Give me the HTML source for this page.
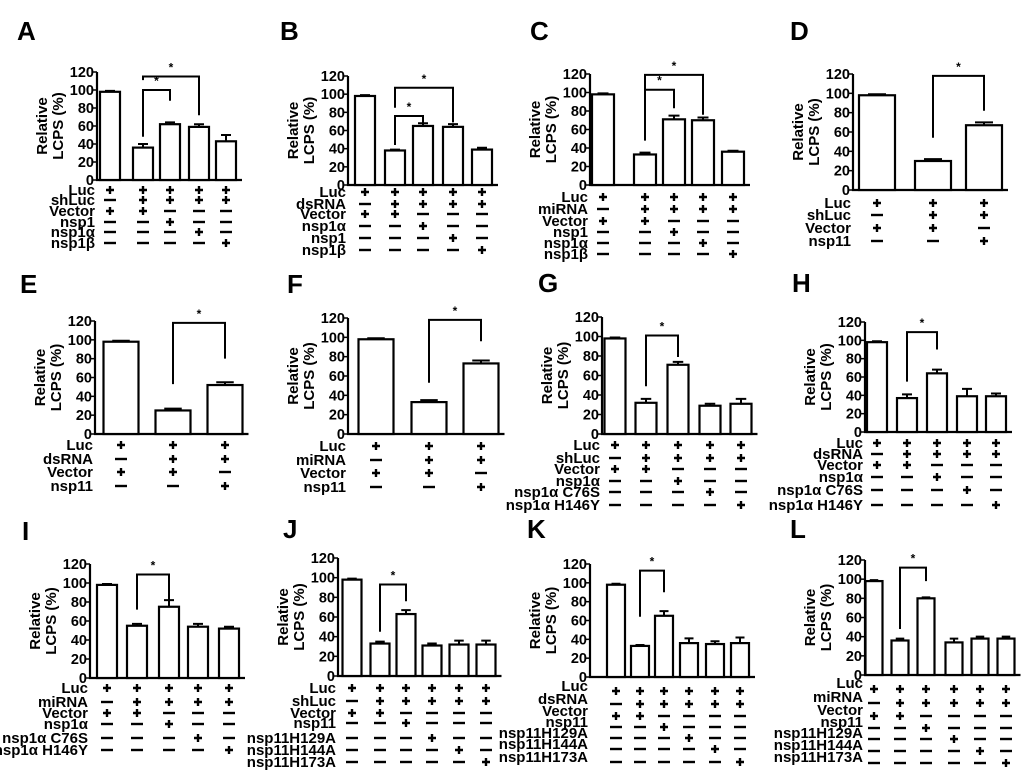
<!DOCTYPE html>
<html><head><meta charset="utf-8"><style>
html,body{margin:0;padding:0;background:#fff;}
svg{display:block;font-family:"Liberation Sans",Arial,sans-serif;font-weight:bold;}
</style></head><body>
<svg id="fig" width="1024" height="782" viewBox="0 0 1024 782"></svg>
<script>
// ---- data ----
const valsA=[98,36,62,59,43], errA=[1,4,2,3,7];
const valsB=[98,38,65,64,39], errB=[1,1,3,3,2];
const valsC=[98,33,71,70,36], errC=[1,2,4,3,1];
const valsD=[98,30,67], errD=[1,2,3];
const valsE=[98,25,52], errE=[1,2,3];
const valsF=[98,33,73], errF=[1,2,3];
const valsG=[98,32,71,29,31], errG=[1,4,3,2,5];
const valsH=[98,37,64,39,39], errH=[1,4,4,8,3];
const valsI=[98,55,75,54,52], errI=[1,2,7,3,2];
const valsJ=[98,33,63,31,32,32], errJ=[1,2,4,2,4,4];
const valsK=[98,33,65,36,35,36], errK=[1,1,5,5,3,6];
const valsL=[98,36,80,34,38,38], errL=[1,2,1,4,2,2];
const yTicks=[0,20,40,60,80,100,120];
const rowsA=["Luc","shLuc","Vector","nsp1","nsp1α","nsp1β"];
const rowsB=["Luc","dsRNA","Vector","nsp1α","nsp1","nsp1β"];
const rowsC=["Luc","miRNA","Vector","nsp1","nsp1α","nsp1β"];
const rowsD=["Luc","shLuc","Vector","nsp11"];
const rowsE=["Luc","dsRNA","Vector","nsp11"];
const rowsF=["Luc","miRNA","Vector","nsp11"];
const rowsG=["Luc","shLuc","Vector","nsp1α","nsp1α C76S","nsp1α H146Y"];
const rowsH=["Luc","dsRNA","Vector","nsp1α","nsp1α C76S","nsp1α H146Y"];
const rowsI=["Luc","miRNA","Vector","nsp1α","nsp1α C76S","nsp1α H146Y"];
const rowsJ=["Luc","shLuc","Vector","nsp11","nsp11H129A","nsp11H144A","nsp11H173A"];
const rowsK=["Luc","dsRNA","Vector","nsp11","nsp11H129A","nsp11H144A","nsp11H173A"];
const rowsL=["Luc","miRNA","Vector","nsp11","nsp11H129A","nsp11H144A","nsp11H173A"];
const signs5=[[1,1,1,1,1],[0,1,1,1,1],[1,1,0,0,0],[0,0,1,0,0],[0,0,0,1,0],[0,0,0,0,1]];
const signs3=[[1,1,1],[0,1,1],[1,1,0],[0,0,1]];
const signs6=[[1,1,1,1,1,1],[0,1,1,1,1,1],[1,1,0,0,0,0],[0,0,1,0,0,0],[0,0,0,1,0,0],[0,0,0,0,1,0],[0,0,0,0,0,1]];
// brackets: [fromBar,toBar,levelValue,leftLegValue,rightLegValue]
const brA=[[1,2,100,48,88],[1,3,115,111,72]];
const brB=[[1,2,76,44,67],[1,3,107,85,69]];
const brC=[[1,2,103,48,83],[1,3,119,102,76]];
const brD=[[1,2,118,54,82]];
const brE=[[1,2,118,53,80]];
const brF=[[1,2,118,53,96]];
const brG=[[1,2,101,49,79]];
const brH=[[1,2,109,55,90]];
const brI=[[1,2,109,72,81]];
const brJ=[[1,2,93,45,76]];
const brK=[[1,2,113,64,90]];
const brL=[[1,2,112,48,98]];

// ---- layout (geometry only) ----
const panels=[
 {id:"A",v:valsA,e:errA,rows:rowsA,s:signs5,br:brA,ax:97,y0:180,y1:72,cx:[110,143,170,199,226],w:20,ry:[190,200,211,222,232,243],so:0,lx:17,ly:40},
 {id:"B",v:valsB,e:errB,rows:rowsB,s:signs5,br:brB,ax:348,y0:185,y1:76,cx:[365,395,423,453,482],w:20,ry:[192,204,214,226,238,250],so:0,lx:280,ly:40},
 {id:"C",v:valsC,e:errC,rows:rowsC,s:signs5,br:brC,ax:590,y0:185,y1:74,cx:[603,645,674,703,733],w:22,ry:[197,209,221,232,243,254],so:0,lx:530,ly:40},
 {id:"D",v:valsD,e:errD,rows:rowsD,s:signs3,br:brD,ax:853,y0:190,y1:74,cx:[877,933,984],w:36,ry:[203,215,228,241],so:0,lx:790,ly:40},
 {id:"E",v:valsE,e:errE,rows:rowsE,s:signs3,br:brE,ax:95,y0:434,y1:321,cx:[121,173,225],w:35,ry:[445,459,472,486],so:0,lx:20,ly:293},
 {id:"F",v:valsF,e:errF,rows:rowsF,s:signs3,br:brF,ax:348,y0:434,y1:318,cx:[376,429,481],w:35,ry:[446,460,473,487],so:0,lx:287,ly:293},
 {id:"G",v:valsG,e:errG,rows:rowsG,s:signs5,br:brG,ax:602,y0:434,y1:317,cx:[615,646,678,710,741],w:21,ry:[445,458,469,481,492,505],so:0,lx:538,ly:292},
 {id:"H",v:valsH,e:errH,rows:rowsH,s:signs5,br:brH,ax:865,y0:432,y1:322,cx:[877,907,937,967,996],w:20,ry:[443,454,465,477,490,505],so:0,lx:792,ly:292},
 {id:"I",v:valsI,e:errI,rows:rowsI,s:signs5,br:brI,ax:90,y0:678,y1:564,cx:[107,137,169,198,229],w:20,ry:[688,702,713,724,738,750],so:0,lx:22,ly:540},
 {id:"J",v:valsJ,e:errJ,rows:rowsJ,s:signs6,br:brJ,ax:338,y0:676,y1:558,cx:[352,380,406,432,459,486],w:19,ry:[688,701,713,723,738,750,762],so:0,lx:283,ly:538},
 {id:"K",v:valsK,e:errK,rows:rowsK,s:signs6,br:brK,ax:590,y0:677,y1:564,cx:[616,640,664,689,715,740],w:18,ry:[686,699,711,722,733,744,757],so:5,lx:527,ly:538},
 {id:"L",v:valsL,e:errL,rows:rowsL,s:signs6,br:brL,ax:865,y0:675,y1:560,cx:[874,900,926,954,980,1006],w:17,ry:[683,697,710,722,733,745,757],so:6,lx:790,ly:538}
];
const NS="http://www.w3.org/2000/svg";
const fig=document.getElementById("fig");
function mk(tag,attrs,parent,text){const el=document.createElementNS(NS,tag);for(const k in attrs)el.setAttribute(k,attrs[k]);if(text!==undefined)el.textContent=text;parent.appendChild(el);return el;}
panels.forEach(p=>{
 const g=mk("g",{},fig);
 
 
 const ys=v=>p.y0-(p.y0-p.y1)*v/120;
 const lt=mk("text",{x:p.lx,y:p.ly,"font-size":26},g,p.id);
 
 
 const right=p.cx[p.cx.length-1]+p.w/2+6;
 const ax=mk("path",{d:`M${p.ax},${p.y1} V${p.y0} H${right}`,stroke:"#000","stroke-width":2.2,fill:"none"},g);
 
 
 yTicks.forEach(t=>{
  mk("line",{x1:p.ax-4,x2:p.ax,y1:ys(t),y2:ys(t),stroke:"#000","stroke-width":1.5},g);
  const tl=mk("text",{x:p.ax-3,y:ys(t)+5,"font-size":14.5,"text-anchor":"end"},g,String(t));
  
  
 });
 const ym=(p.y0+p.y1)/2;
 const t1=mk("text",{x:0,y:0,"font-size":15,"text-anchor":"middle",transform:`translate(${p.ax-50},${ym}) rotate(-90)`},g,"Relative");
 
 
 const t2=mk("text",{x:0,y:0,"font-size":15,"text-anchor":"middle",transform:`translate(${p.ax-34},${ym}) rotate(-90)`},g,"LCPS (%)");
 
 
 p.v.forEach((v,i)=>{
  const x=p.cx[i]-p.w/2;
  const b=mk("rect",{x:x,y:ys(v),width:p.w,height:p.y0-ys(v),fill:"#fff",stroke:"#000","stroke-width":2.2},g);
  
  
  const ey=ys(v+p.e[i]);
  mk("path",{d:`M${p.cx[i]},${ys(v)} V${ey} M${p.cx[i]-p.w/4},${ey} H${p.cx[i]+p.w/4}`,stroke:"#000","stroke-width":2,fill:"none"},g);
 });
 p.br.forEach(b=>{
  const x1=p.cx[b[0]],x2=p.cx[b[1]],yb=ys(b[2]);
  const br=mk("path",{d:`M${x1},${ys(b[3])} V${yb} H${x2} V${ys(b[4])}`,stroke:"#000","stroke-width":2,fill:"none"},g);
  
  
  const st=mk("text",{x:(x1+x2)/2,y:yb-5,"font-size":12,"text-anchor":"middle"},g,"*");
  
  
 });
 p.rows.forEach((r,ri)=>{
  const rl=mk("text",{x:p.ax-2,y:p.ry[ri]+5,"font-size":15,"text-anchor":"end"},g,r);
  
  
 });
 p.s.forEach((row,ri)=>{
  const y=p.ry[ri]+p.so;
  row.forEach((s,i)=>{
   const c=p.cx[i];
   const sg=mk("path",{d:s?`M${c-4},${y} H${c+4} M${c},${y-4} V${y+4}`:`M${c-6},${y} H${c+6}`,stroke:"#000","stroke-width":2.4,fill:"none"},g);
   
   
  });
 });
});
</script>
</body></html>
